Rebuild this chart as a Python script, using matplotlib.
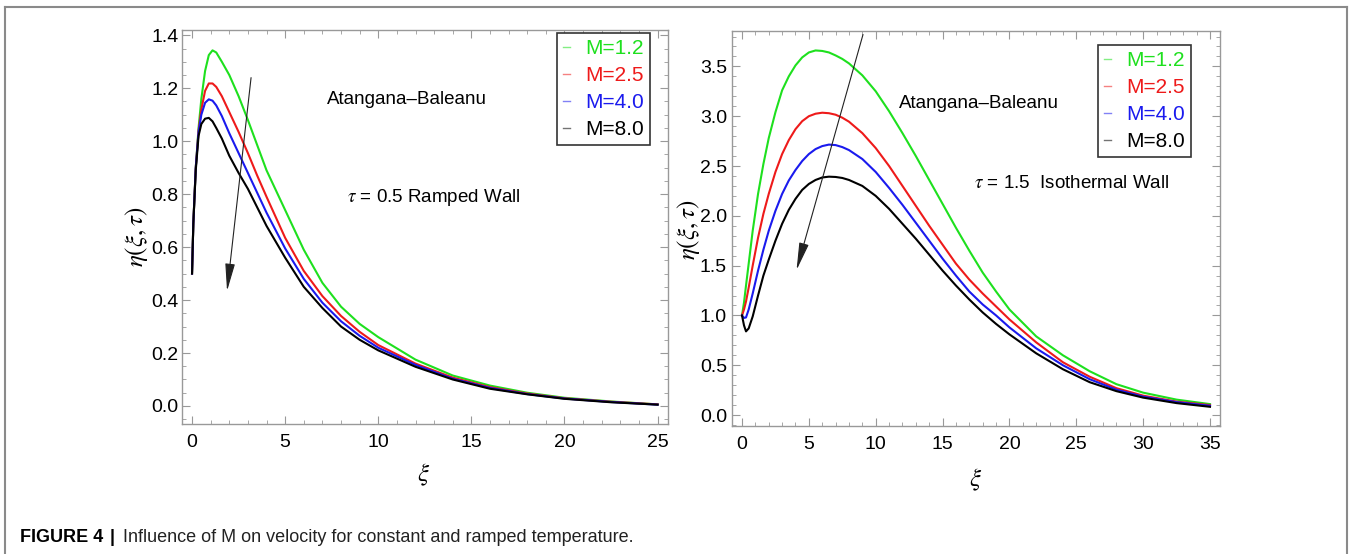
import matplotlib.pyplot as plt
from matplotlib.lines import Line2D
from matplotlib.ticker import MultipleLocator, FormatStrFormatter

plt.rcParams['mathtext.fontset'] = 'stix'
FONT = ['Liberation Sans Narrow', 'Liberation Sans', 'DejaVu Sans']

labels = ['M=1.2', 'M=2.5', 'M=4.0', 'M=8.0']
colors = ['#1ee01e', '#ee1a1a', '#1a1aee', '#000000']

# ramped wall, tau = 0.5
xi_ramped = [0, 0.07, 0.2, 0.35, 0.5, 0.7, 0.9, 1.1, 1.3, 1.6, 2, 2.5, 3, 3.5, 4,
             5, 6, 7, 8, 9, 10, 12, 14, 16, 18, 20, 22.5, 25]
ramped_m12 = [0.5, 0.69, 0.9, 1.05, 1.16, 1.265, 1.325, 1.343, 1.335, 1.30, 1.25, 1.17,
              1.08, 0.985, 0.89, 0.74, 0.59, 0.465, 0.375, 0.31, 0.26, 0.175, 0.115,
              0.077, 0.05, 0.031, 0.017, 0.006]
ramped_m25 = [0.5, 0.69, 0.9, 1.04, 1.12, 1.19, 1.218, 1.218, 1.205, 1.17, 1.11, 1.035,
              0.955, 0.87, 0.79, 0.635, 0.51, 0.415, 0.34, 0.28, 0.23, 0.16, 0.107,
              0.071, 0.047, 0.029, 0.016, 0.006]
ramped_m40 = [0.5, 0.69, 0.9, 1.035, 1.10, 1.145, 1.158, 1.153, 1.135, 1.095, 1.03, 0.955,
              0.88, 0.805, 0.73, 0.595, 0.48, 0.39, 0.32, 0.265, 0.22, 0.155, 0.103,
              0.068, 0.045, 0.028, 0.015, 0.005]
ramped_m80 = [0.5, 0.69, 0.89, 1.02, 1.065, 1.085, 1.088, 1.075, 1.05, 1.01, 0.945, 0.88,
              0.82, 0.75, 0.68, 0.56, 0.45, 0.37, 0.30, 0.25, 0.21, 0.148, 0.10,
              0.065, 0.044, 0.027, 0.014, 0.005]

# isothermal wall, tau = 1.5
xi_iso = [0, 0.15, 0.3, 0.5, 0.8, 1.2, 1.6, 2, 2.5, 3, 3.5, 4, 4.5, 5, 5.5, 6, 6.5, 7,
          7.5, 8, 9, 10, 11, 12, 13, 14, 15, 16, 17, 18, 19, 20, 22, 24, 26, 28, 30,
          32.5, 35]
iso_m12 = [1.0, 1.13, 1.3, 1.52, 1.85, 2.22, 2.52, 2.78, 3.04, 3.26, 3.40, 3.51, 3.59,
           3.64, 3.66, 3.655, 3.64, 3.61, 3.575, 3.53, 3.41, 3.25, 3.05, 2.83, 2.60,
           2.36, 2.12, 1.88, 1.65, 1.43, 1.24, 1.06, 0.79, 0.60, 0.44, 0.31, 0.225,
           0.155, 0.11]
iso_m25 = [1.0, 1.06, 1.14, 1.28, 1.5, 1.78, 2.02, 2.22, 2.44, 2.62, 2.76, 2.87, 2.95,
           3.0, 3.025, 3.035, 3.03, 3.015, 2.985, 2.945, 2.83, 2.68, 2.50, 2.30, 2.10,
           1.90, 1.71, 1.52, 1.36, 1.22, 1.09, 0.96, 0.73, 0.53, 0.385, 0.27, 0.195,
           0.135, 0.10]
iso_m40 = [1.0, 0.975, 0.98, 1.06, 1.22, 1.45, 1.66, 1.85, 2.05, 2.22, 2.355, 2.46, 2.55,
           2.62, 2.67, 2.70, 2.715, 2.71, 2.69, 2.66, 2.57, 2.44, 2.28, 2.11, 1.93,
           1.75, 1.57, 1.40, 1.24, 1.11, 1.0, 0.88, 0.67, 0.50, 0.36, 0.255, 0.185,
           0.13, 0.093]
iso_m80 = [1.0, 0.9, 0.84, 0.87, 0.99, 1.2, 1.4, 1.56, 1.75, 1.92, 2.06, 2.17, 2.26,
           2.32, 2.36, 2.385, 2.393, 2.39, 2.38, 2.36, 2.30, 2.20, 2.07, 1.92, 1.77,
           1.61, 1.45, 1.30, 1.16, 1.03, 0.915, 0.81, 0.62, 0.46, 0.33, 0.24, 0.175,
           0.12, 0.083]


def style_axes(ax, xlim, ylim, xmaj, xmin, ymaj, ymin, ypad):
    ax.set_xlim(xlim)
    ax.set_ylim(ylim)
    ax.xaxis.set_major_locator(MultipleLocator(xmaj))
    ax.xaxis.set_minor_locator(MultipleLocator(xmin))
    ax.yaxis.set_major_locator(MultipleLocator(ymaj))
    ax.yaxis.set_minor_locator(MultipleLocator(ymin))
    ax.xaxis.set_major_formatter(FormatStrFormatter('%d'))
    ax.yaxis.set_major_formatter(FormatStrFormatter('%.1f'))
    ax.tick_params(which='both', direction='in', top=True, right=True, color='#999999')
    ax.tick_params(which='major', length=6, width=0.8, labelsize=14)
    ax.tick_params(which='minor', length=3, width=0.6)
    ax.tick_params(axis='x', pad=7)
    ax.tick_params(axis='y', pad=ypad)
    for s in ax.spines.values():
        s.set_color('#999999')
        s.set_linewidth(1.0)
    for lab in ax.get_xticklabels() + ax.get_yticklabels():
        lab.set_family(FONT)


def add_legend(ax, lines, anchor):
    leg = ax.legend(lines, labels, loc='upper right', bbox_to_anchor=anchor,
                    prop={'family': FONT, 'size': 15}, labelcolor='linecolor',
                    handlelength=0.35, handletextpad=0.7, borderpad=0.3,
                    labelspacing=0.38, borderaxespad=0, fancybox=False,
                    edgecolor='#333333', framealpha=1)
    leg.get_frame().set_linewidth(1.2)
    for h in leg.legend_handles:
        h.set_linewidth(1.0)
        h.set_alpha(0.55)


fig = plt.figure(figsize=(13.52, 5.54), dpi=100)

# left panel
ax1 = fig.add_axes([0.1346, 0.2347, 0.3595, 0.7112])
lines1 = []
for ys, c in zip([ramped_m12, ramped_m25, ramped_m40, ramped_m80], colors):
    ln, = ax1.plot(xi_ramped, ys, color=c, lw=1.5)
    lines1.append(ln)
style_axes(ax1, (-0.54, 25.56), (-0.068, 1.42), 5, 1, 0.2, 0.05, 2.5)
add_legend(ax1, lines1, (0.963, 0.992))
ax1.text(11.56, 1.158, 'Atangana\u2013Baleanu', ha='center', va='center',
         family=FONT, fontsize=13.5)
ax1.text(13.0, 0.789, r'$\tau$ = 0.5 Ramped Wall', ha='center', va='center',
         family=FONT, fontsize=13.5)
ax1.annotate('', xy=(1.88, 0.434), xytext=(3.17, 1.24),
             arrowprops=dict(arrowstyle='-|>,head_length=1.7,head_width=0.3',
                             mutation_scale=10, color='#222222', lw=0.8,
                             shrinkA=0, shrinkB=0))

# right panel
ax2 = fig.add_axes([0.5414, 0.231, 0.361, 0.713])
lines2 = []
for ys, c in zip([iso_m12, iso_m25, iso_m40, iso_m80], colors):
    ln, = ax2.plot(xi_iso, ys, color=c, lw=1.5)
    lines2.append(ln)
style_axes(ax2, (-0.75, 35.75), (-0.11, 3.855), 5, 1, 0.5, 0.1, 3.5)
add_legend(ax2, lines2, (0.9406, 0.9646))
ax2.text(17.73, 3.13, 'Atangana\u2013Baleanu', ha='center', va='center',
         family=FONT, fontsize=13.5)
ax2.text(24.64, 2.32, r'$\tau$ = 1.5  Isothermal Wall', ha='center', va='center',
         family=FONT, fontsize=13.5)
ax2.annotate('', xy=(4.08, 1.456), xytext=(9.05, 3.82),
             arrowprops=dict(arrowstyle='-|>,head_length=1.7,head_width=0.3',
                             mutation_scale=10, color='#222222', lw=0.8,
                             shrinkA=0, shrinkB=0))

# axis labels
W, H = 1352, 554
fig.text(136 / W, 1 - 237 / H, r'$\eta(\xi,\tau)$', rotation=90, ha='center',
         va='center', fontsize=18)
fig.text(688 / W, 1 - 230 / H, r'$\eta(\xi,\tau)$', rotation=90, ha='center',
         va='center', fontsize=18)
fig.text(424 / W, 1 - 475 / H, r'$\xi$', ha='center', va='center', fontsize=18)
fig.text(976 / W, 1 - 480 / H, r'$\xi$', ha='center', va='center', fontsize=18)

# caption
fig.text(20 / W, 1 - 537 / H, 'FIGURE 4', ha='left', va='center',
         family=FONT, fontsize=13, weight='bold')
fig.text(112 / W, 1 - 537 / H, '|', ha='center', va='center',
         family=FONT, fontsize=13, weight='bold')
fig.text(123 / W, 1 - 537 / H,
         'Influence of M on velocity for constant and ramped temperature.',
         ha='left', va='center', family=FONT, fontsize=13, color='#222222')

# page frame
fc = '#8a8a8a'
fig.add_artist(Line2D([4.5 / W, 4.5 / W], [0, 1 - 6.5 / H], transform=fig.transFigure,
                      color=fc, lw=1.5))
fig.add_artist(Line2D([4.5 / W, 1347 / W], [1 - 6.5 / H, 1 - 6.5 / H],
                      transform=fig.transFigure, color=fc, lw=1.5))
fig.add_artist(Line2D([1347 / W, 1347 / W], [0, 1 - 6.5 / H], transform=fig.transFigure,
                      color=fc, lw=1.5))

fig.savefig('out.png', dpi=100)
plt.close(fig)
